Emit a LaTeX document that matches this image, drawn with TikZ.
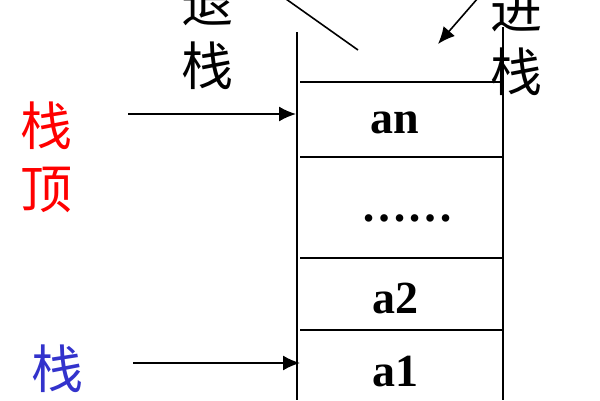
\documentclass[tikz,border=0pt]{standalone}
\usepackage{fontspec}
\setmainfont{Liberation Serif}
\newfontfamily\cjk{Noto Sans CJK SC}
\usetikzlibrary{arrows.meta}
\definecolor{topred}{RGB}{255,0,0}
\definecolor{baseblue}{RGB}{51,51,204}
\tikzset{
    cell/.style = {font=\fontsize{46}{46}\selectfont\bfseries, inner sep=0pt},
    word/.style = {font=\fontsize{52}{63}\selectfont\cjk, inner sep=0pt, align=center},
    wall/.style = {draw, line width=1.6pt},
    arrow/.style = {draw, line width=1.6pt, -{Latex[length=17pt,width=15pt]}}
}

\begin{document}
\begin{tikzpicture}[x=1pt,y=-1pt]
                \useasboundingbox (0,0) rectangle (600,400);
                % walls of the stack
                \coordinate (lt) at (297,32);
                \coordinate (lb) at (297,400);
                \coordinate (rt) at (503,27);
                \coordinate (rb) at (503,400);
                \draw [wall] (lt) -- (lb);
                \draw [wall] (rt) -- (rb);
                % separators
                \foreach \y/\n in {82/s0,157/s1,258/s2,330/s3}{
                    \coordinate (\n l) at (300,\y);
                    \coordinate (\n r) at (503,\y);
                    \draw [wall] (\n l) -- (\n r);
                }
                % cells
                \node[cell] (an) at (395,122.5) {an};
                \node[cell] (dots) at (407,218) {……};
                \node[cell] (a2) at (395,298) {a2};
                \node[cell] (a1) at (395,371.5) {a1};
                % labels
                \node[word,text=topred] (top) at (46,157.5) {栈\\顶};
                \node[word,text=baseblue] (base) at (57,369) {栈};
                \node[word] (pop) at (207,35.5) {退\\栈};
                \node[word] (push) at (516,40.5) {进\\栈};
                % pointers
                \coordinate (toptail) at (128,114);
                \coordinate (toptip) at (296,114);
                \coordinate (basetail) at (133,363);
                \coordinate (basetip) at (300,363);
                \coordinate (pushtail) at (478,-2);
                \coordinate (pushtip) at (438,44);
                \coordinate (poptail) at (286,-1);
                \coordinate (pophead) at (358,50);
                \draw [arrow] (toptail) -- (toptip);
                \draw [arrow] (basetail) -- (basetip);
                \draw [arrow] (pushtail) -- (pushtip);
                \draw [wall] (poptail) -- (pophead);
            \end{tikzpicture}
\end{document}
